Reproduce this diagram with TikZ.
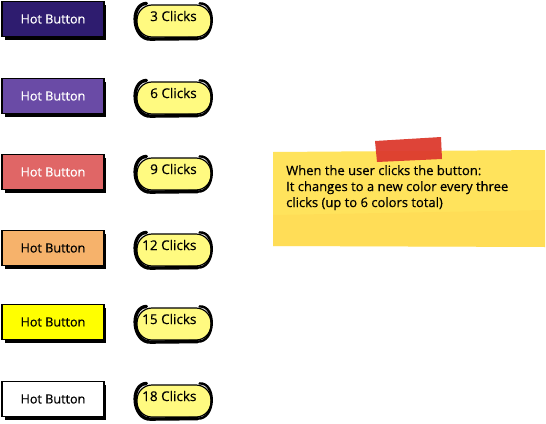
\documentclass[tikz,border=0pt]{standalone}
\usepackage{fontspec}
\setmainfont[FakeBold=0.5]{Open Sans}
\definecolor{bA}{HTML}{2E1C6F}
\definecolor{bB}{HTML}{6A4BA6}
\definecolor{bC}{HTML}{E06666}
\definecolor{bD}{HTML}{F6B26B}
\definecolor{bE}{HTML}{FFFF00}
\definecolor{bF}{HTML}{FFFFFF}
\definecolor{pill}{HTML}{FFFA80}
\definecolor{note}{HTML}{FFE35C}
\definecolor{tape}{HTML}{DD3A2E}
\begin{document}
\begin{tikzpicture}[x=1pt,y=-1pt,
  hotbtn/.style={draw=black,line width=1.2pt,minimum width=102pt,minimum height=35pt,inner sep=0pt,font=\fontsize{12.6}{14}\selectfont},
  pillnode/.style={draw=black,line width=1.2pt,fill=pill,rounded corners=15pt,minimum width=74pt,minimum height=32pt,inner sep=0pt},
  pilltext/.style={font=\fontsize{13.5}{15}\selectfont,anchor=west,inner sep=0pt},
  notetext/.style={font=\fontsize{13}{16}\selectfont,align=left,anchor=north west,inner sep=0pt}]
\useasboundingbox (0,0) rectangle (546,423);
\fill[white] (0,0) rectangle (546,423);
% buttons
\foreach \yy/\col/\tc/\nm in {19/bA/white/a,96/bB/white/b,172/bC/white/c,248/bD/black/d,322/bE/black/e,399/bF/black/f}{
  \fill[black] (5,\yy-14) rectangle (106,\yy+21);
  \node[hotbtn,fill=\col,text=\tc] (btn\nm) at (53,\yy) {Hot Button};
}
% pills
\foreach \yy/\lab/\nm/\tx in {19/3 Clicks/a/150,96/6 Clicks/b/150,172/9 Clicks/c/150,248/12 Clicks/d/142,322/15 Clicks/e/142,399/18 Clicks/f/142}{
  \node[pillnode] (pill\nm) at (174,\yy+2) {};
  \draw[black,line width=3.4pt,line cap=round] ([xshift=10pt,yshift=1pt]pill\nm.north west) .. controls ([xshift=-7pt]pill\nm.north west) and ([xshift=-4pt,yshift=-2pt]pill\nm.south west) .. ([xshift=14pt,yshift=-1.5pt]pill\nm.south west) -- ([xshift=-14pt,yshift=-1pt]pill\nm.south east);
  \draw[black,line width=2.4pt,line cap=round] ([xshift=-12pt,yshift=1pt]pill\nm.north east) .. controls ([xshift=5pt,yshift=2pt]pill\nm.north east) and ([xshift=4pt,yshift=-2pt]pill\nm.south east) .. ([xshift=-14pt,yshift=-1pt]pill\nm.south east);
  \node[pilltext] (lab\nm) at (\tx,\yy-3) {\lab};
}
% note
\fill[note] (273,152) -- (545,150) -- (545,247) -- (273,246) -- cycle;
\fill[note!80!orange,opacity=0.25] (273,215) -- (545,210) -- (545,247) -- (273,246) -- cycle;
\node[notetext] (notetxt) at (286,165) {When the user clicks the button:\\It changes to a new color every three\\clicks (up to 6 colors total)};
\fill[tape,opacity=0.95] (375,141) -- (441,137) -- (442,159) -- (377,162) -- cycle;
\end{tikzpicture}
\end{document}
